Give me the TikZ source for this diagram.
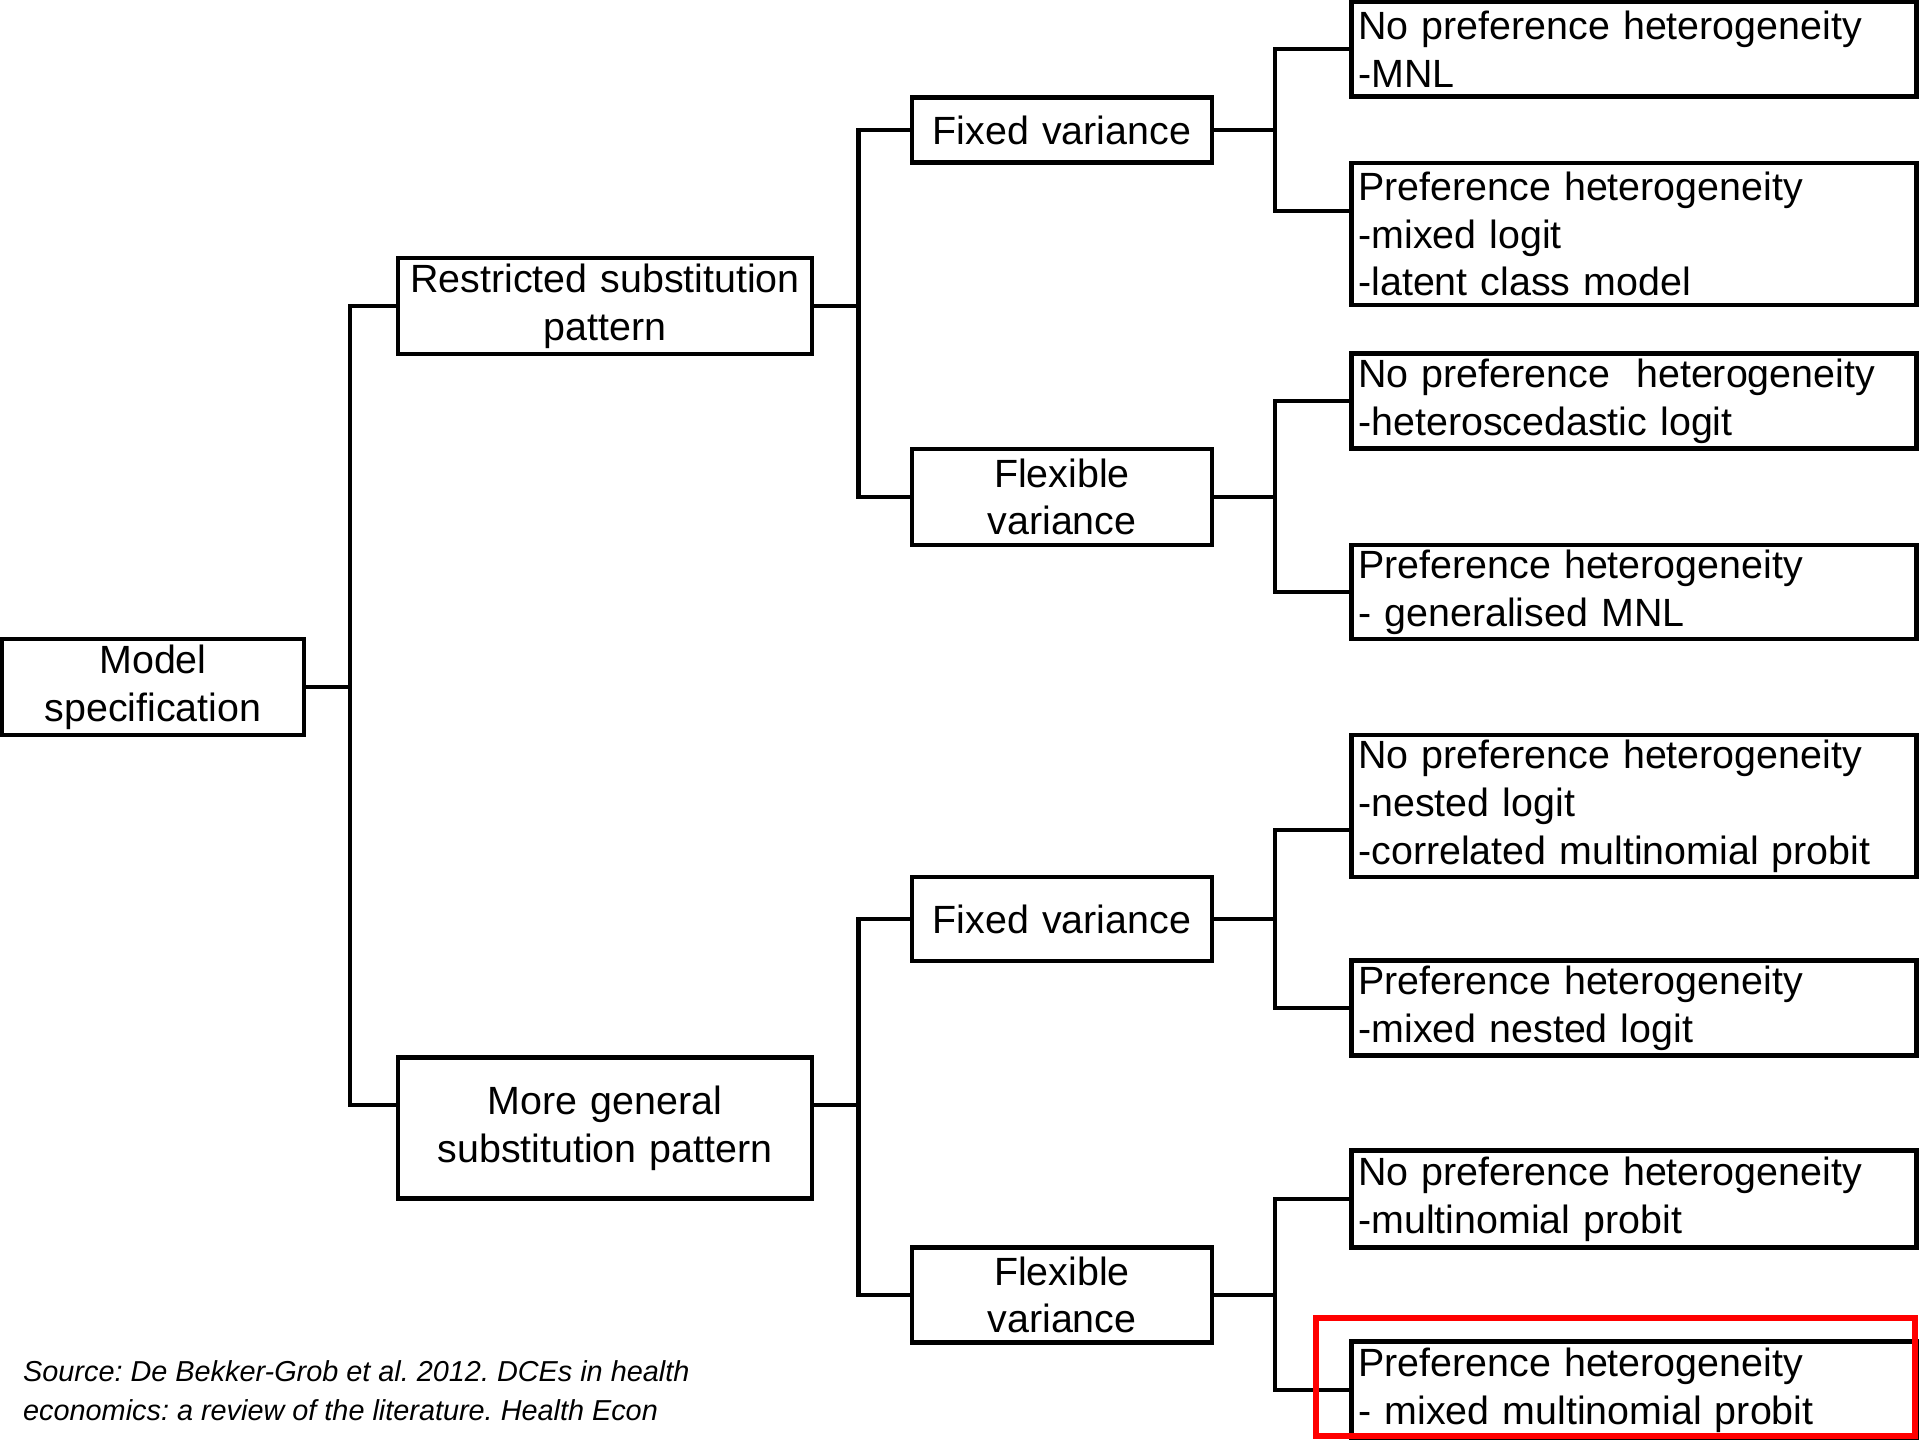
\documentclass[tikz,border=0pt]{standalone}
\usepackage{fontspec}
\setmainfont{Liberation Sans}
\usetikzlibrary{calc}
\tikzset{
	box/.style={draw, inner ysep=0pt, inner xsep=0.1cm, align=center,
			font=\fontsize{11.2}{13.6}\selectfont},
	leaf/.style={box, align=left, inner xsep=0.07cm, text width=5.51cm},
	note/.style={align=left, inner sep=0pt, font=\fontsize{8.2}{11.1}\selectfont\itshape\frenchspacing}
}

\begin{document}
\begin{tikzpicture}[x=0.01cm, y=-0.01cm, line width=1.25pt, line cap=rect]
			\useasboundingbox[fill=white] (0,0) rectangle (1920,1440);

			% Root and first split
			\node[box, text width=2.82cm, minimum height=0.96cm] (model) at (153,687) {Model\\specification};
			\node[box, text width=3.94cm, minimum height=0.96cm] (restr) at (605,306) {Restricted substitution\\pattern};
			\node[box, text width=3.94cm, minimum height=1.41cm] (general) at (605,1128) {More general\\substitution pattern};

			% Variance
			\node[box, text width=2.8cm, minimum height=0.65cm] (fixA) at (1062,130) {Fixed variance};
			\node[box, text width=2.8cm, minimum height=0.96cm] (flexA) at (1062,497) {Flexible\\variance};
			\node[box, text width=2.8cm, minimum height=0.84cm] (fixB) at (1062,919) {Fixed variance};
			\node[box, text width=2.8cm, minimum height=0.95cm] (flexB) at (1062,1295) {Flexible\\variance};

			% Heterogeneity
			\node[leaf, minimum height=0.95cm] (leafA) at (1634,49) {No preference heterogeneity\\-MNL};
			\node[leaf, minimum height=1.42cm] (leafB) at (1634,234) {Preference heterogeneity\\-mixed logit\\-latent class model};
			\node[leaf, minimum height=0.95cm] (leafC) at (1634,401) {No preference\ \ heterogeneity\\-heteroscedastic logit};
			\node[leaf, minimum height=0.94cm] (leafD) at (1634,592) {Preference heterogeneity\\- generalised MNL};
			\node[leaf, minimum height=1.42cm] (leafE) at (1634,806) {No preference heterogeneity\\-nested logit\\-correlated multinomial probit};
			\node[leaf, minimum height=0.95cm] (leafF) at (1634,1008) {Preference heterogeneity\\-mixed nested logit};
			\node[leaf, minimum height=0.97cm] (leafG) at (1634,1199) {No preference heterogeneity\\-multinomial probit};
			\node[leaf, minimum height=0.97cm] (leafH) at (1634,1390) {Preference heterogeneity\\- mixed multinomial probit};

			% Brackets
			\draw (model.east) -- ++(44,0) |- (restr.west);
			\draw (model.east) -- ++(44,0) |- ($(general.west)+(0,-23)$);
			\draw (restr.east) -- ++(44,0) |- (fixA.west);
			\draw (restr.east) -- ++(44,0) |- (flexA.west);
			\draw ($(general.east)+(0,-23)$) -- ++(44,0) |- (fixB.west);
			\draw ($(general.east)+(0,-23)$) -- ++(44,0) |- (flexB.west);
			\draw (fixA.east) -- ++(61,0) |- (leafA.west);
			\draw (fixA.east) -- ++(61,0) |- ($(leafB.west)+(0,-23)$);
			\draw (flexA.east) -- ++(61,0) |- (leafC.west);
			\draw (flexA.east) -- ++(61,0) |- (leafD.west);
			\draw (fixB.east) -- ++(61,0) |- ($(leafE.west)+(0,24)$);
			\draw (fixB.east) -- ++(61,0) |- (leafF.west);
			\draw (flexB.east) -- ++(61,0) |- (leafG.west);
			\draw (flexB.east) -- ++(61,0) |- (leafH.west);

			% Highlight
			\draw[red, line width=0.06cm, line cap=butt] (1316,1318) rectangle (1915,1436);

			% Source
			\node[note, anchor=north west] (source) at (21,1358) {Source: De Bekker-Grob et al. 2012. DCEs in health\\economics: a review of the literature. Health Econ};

		\end{tikzpicture}
\end{document}
